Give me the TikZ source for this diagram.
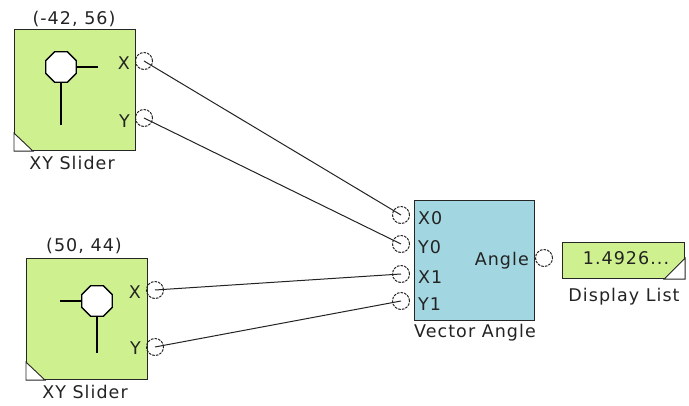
\documentclass[tikz,border=0pt]{standalone}
\usepackage{fontspec}
\setmainfont{DejaVu Sans}[LetterSpace=6]
\usepackage{xcolor}
\usetikzlibrary{shapes.geometric}

\definecolor{slidergreen}{RGB}{206,240,142}
\definecolor{blockteal}{RGB}{162,214,224}
\definecolor{inkgray}{RGB}{35,35,35}

\begin{document}
\begin{tikzpicture}[x=1pt, y=-1pt,
  lbl/.style={font=\fontsize{17.5}{19}\selectfont, text=inkgray, inner sep=0pt},
  blk/.style={draw=black!85, line width=1.1pt, inner sep=0pt, anchor=north west},
  slider/.style={blk, fill=slidergreen, minimum width=121pt, minimum height=121pt},
  corner/.style={draw=black!85, fill=white, line width=0.9pt},
  knob/.style={regular polygon, regular polygon sides=8, draw=black, fill=white, line width=1.4pt, minimum size=33pt, inner sep=0pt},
  stem/.style={line width=1.5pt},
  port/.style={circle, draw=inkgray, line width=1pt, dash pattern=on 2.6pt off 1.1pt, minimum size=17pt, inner sep=0pt},
  wire/.style={draw=inkgray, line width=1pt}
]
\useasboundingbox (0,0) rectangle (689,406);

% first slider
\node[slider] (s1) at (14,29) {};
\node[lbl] (s1t) at (74,19) {(-42, 56)};
\node[lbl] (s1n) at (72,163) {XY Slider};
\draw[corner] (s1.south west) -- ++(19,0) -- ++(-19,-18) -- cycle;
\node[knob] (k1) at (61,67) {};
\draw[stem] (k1.east) -- ++(21,0);
\draw[stem] (k1.south) -- (61,125);
\node[lbl, anchor=east] (s1xl) at (130,63) {X};
\node[lbl, anchor=east] (s1yl) at (130,121) {Y};
\node[port] (s1x) at (144,61) {};
\node[port] (s1y) at (144,118) {};

% second slider
\node[slider] (s2) at (26,258) {};
\node[lbl] (s2t) at (84,246) {(50, 44)};
\node[lbl] (s2n) at (85,392) {XY Slider};
\draw[corner] (s2.south west) -- ++(19,0) -- ++(-19,-18) -- cycle;
\node[knob] (k2) at (97,301) {};
\draw[stem] (k2.west) -- ++(-21,0);
\draw[stem] (k2.south) -- (97,353);
\node[lbl, anchor=east] (s2xl) at (141,292) {X};
\node[lbl, anchor=east] (s2yl) at (141,348) {Y};
\node[port] (s2x) at (155,290) {};
\node[port] (s2y) at (155,347) {};

% vector angle block
\node[blk, fill=blockteal, minimum width=120pt, minimum height=120pt] (va) at (414,200) {};
\node[lbl] (van) at (475,333) {Vector Angle};
\node[lbl, anchor=west] (vx0l) at (418,218) {X0};
\node[lbl, anchor=west] (vy0l) at (418,247) {Y0};
\node[lbl, anchor=west] (vx1l) at (418,277) {X1};
\node[lbl, anchor=west] (vy1l) at (418,304) {Y1};
\node[lbl, anchor=east] (val) at (529,261) {Angle};
\node[port] (vx0) at (401,215) {};
\node[port] (vy0) at (401,244) {};
\node[port] (vx1) at (401,274) {};
\node[port] (vy1) at (401,301) {};
\node[port] (vout) at (544,258) {};

% display list
\node[blk, fill=slidergreen, minimum width=122pt, minimum height=36pt] (dl) at (562,242) {};
\node[lbl] (dlv) at (626,258) {1.4926...};
\node[lbl] (dln) at (624,297) {Display List};
\draw[corner] (dl.south east) -- ++(-21,0) -- ++(21,-21) -- cycle;

\draw[wire] (s1x.center) -- (vx0.center);
\draw[wire] (s1y.center) -- (vy0.center);
\draw[wire] (s2x.center) -- (vx1.center);
\draw[wire] (s2y.center) -- (vy1.center);
\end{tikzpicture}
\end{document}
